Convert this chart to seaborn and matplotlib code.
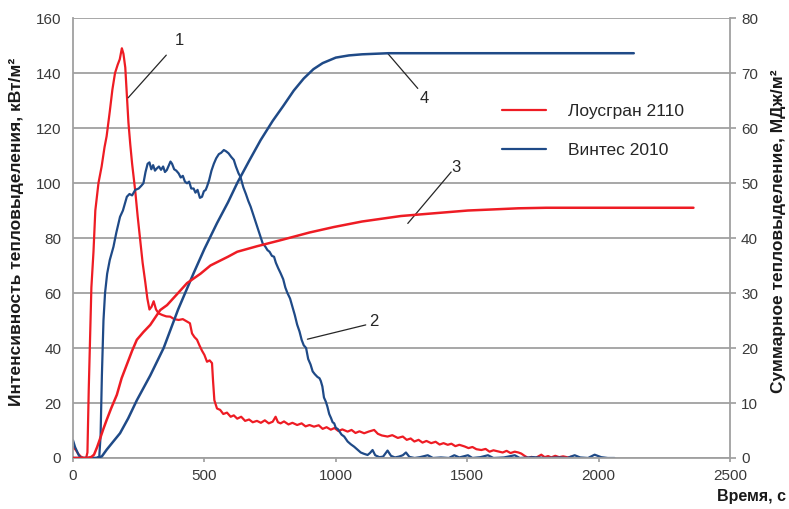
import matplotlib
matplotlib.use("Agg")
import matplotlib.pyplot as plt
import seaborn as sns

# heat release rate, kW/m2 (left axis)
t_red = [0, 10, 20, 30, 40, 50, 55, 60, 65, 70, 78, 85, 97, 109, 120, 128, 140, 150, 160, 170,
         178, 186, 192, 199, 205, 211, 218, 225, 237, 246, 256, 265, 275, 283, 291, 299, 307, 316, 326, 340,
         355, 370, 385, 402, 418, 434, 445, 453, 462, 472, 481, 491, 500, 510, 520, 529, 533, 538, 548, 560,
         572, 586, 600, 612, 625, 640, 655, 670, 684, 700, 715, 730, 745, 760, 771, 780, 790, 803, 820, 835,
         853, 870, 885, 900, 917, 935, 950, 965, 981, 995, 1010, 1025, 1045, 1060, 1075, 1090, 1108, 1125, 1146, 1160,
         1175, 1197, 1215, 1236, 1255, 1270, 1285, 1299, 1315, 1330, 1345, 1363, 1380, 1395, 1410, 1426, 1440, 1455, 1470, 1490,
         1505, 1520, 1535, 1554, 1570, 1585, 1600, 1617, 1635, 1650, 1665, 1681, 1695, 1706, 1718, 1732, 1745, 1760, 1782, 1795,
         1808, 1820, 1835, 1850, 1865, 1884, 1897]
hrr_red = [4, 3, 1.5, 0.5, 0, 0, 2, 25, 43, 62, 75, 90, 100, 106, 113, 117, 126, 134, 140, 143,
           145, 149, 147, 142, 132, 122, 114, 107, 97, 88, 79, 71, 64, 58, 54, 55, 57, 54, 52.6, 52,
           51.5, 51.4, 50.5, 50.2, 50.5, 49.6, 49, 45.3, 44, 43, 41, 39, 37.5, 35, 35.5, 34.5, 28, 21, 18, 17.5,
           16, 16.5, 15, 15.5, 14.3, 15, 13.5, 14, 13, 13.5, 12.8, 13.7, 12.6, 13.2, 15, 13, 12.6, 13.3, 12.2, 12.8,
           12, 12.6, 11.5, 12, 11.4, 11.9, 10.6, 11.2, 10.3, 10.9, 9.8, 10.4, 9.6, 10.2, 9.1, 9.7, 9, 9.6, 10.2, 8.8,
           8.2, 7.8, 8.3, 7.3, 7.8, 6.6, 7.1, 6, 6.6, 5.6, 6.2, 5.4, 5.9, 4.9, 5.4, 4.8, 5.2, 4.3, 4.8, 4.2,
           3.6, 4, 3.2, 2.9, 3.3, 2.3, 2.8, 2.4, 2, 2.6, 1.8, 2.3, 2, 1.6, 0.8, 0, 0.4, 0, 1.2, 0.3,
           0.7, 0.2, 0.8, 0.3, 0.6, 0.2, 0.5]

t_blue = [0, 8, 15, 22, 30, 60, 90, 100, 105, 110, 116, 122, 130, 140, 154, 165, 179, 190, 205, 215,
          225, 237, 250, 260, 268, 276, 284, 291, 298, 305, 312, 319, 327, 335, 343, 350, 357, 365, 371, 377,
          385, 393, 402, 410, 418, 426, 434, 442, 450, 459, 466, 474, 483, 491, 498, 505, 510, 518, 527, 536,
          545, 555, 564, 574, 583, 592, 602, 612, 620, 630, 637, 648, 658, 667, 676, 686, 695, 705, 714, 722,
          731, 740, 748, 757, 765, 772, 781, 790, 800, 808, 816, 826, 835, 844, 853, 862, 870, 878, 887, 895,
          904, 912, 920, 930, 938, 943, 949, 955, 962, 968, 975, 982, 988, 994, 1000, 1008, 1015, 1022, 1032, 1045,
          1057, 1070, 1083, 1095, 1108, 1121, 1130, 1140, 1150, 1166, 1180, 1197, 1210, 1225, 1240, 1255, 1267, 1280, 1300, 1320,
          1350, 1370, 1400, 1430, 1451, 1470, 1503, 1520, 1550, 1579, 1600, 1640, 1681, 1700, 1750, 1800, 1850, 1880, 1909, 1930,
          1960, 1985, 2010, 2035, 2061]
hrr_blue = [6.5, 4, 2.5, 1, 0, 0, 0, 0.5, 8, 30, 50, 60, 67, 72, 76.8, 82, 87.7, 90, 95, 96,
            95.5, 97.5, 98, 99, 99.9, 104, 107, 107.5, 105, 106.5, 104.5, 105.3, 106, 104.8, 106, 104, 104.7, 106.5, 107.8, 107,
            105, 104.5, 103.5, 102, 102.6, 100.5, 99.9, 100.5, 98, 98, 96.5, 97.5, 94.6, 95, 97, 97.5, 98.7, 101, 104.5, 107,
            109, 110.5, 111, 112, 111.5, 110.8, 109.5, 108.4, 106, 103.5, 102.3, 98.5, 96, 93.5, 91.4, 88.5, 86, 83, 80.5, 78,
            77, 75.6, 75, 73.5, 73.2, 71, 69, 67.2, 65, 62, 60, 58, 55, 52, 48.5, 46, 43, 41, 40, 36,
            34, 31.5, 30.5, 29.5, 29, 28, 26, 22, 20.5, 18.7, 16, 14.5, 13, 12.6, 11, 10.5, 9.5, 8.5, 7.8, 6,
            5, 4.1, 3, 2, 1.5, 1.1, 1.8, 2.9, 1, 0.3, 0.5, 2.7, 0.8, 0.2, 0.5, 1, 2, 0.4, 0, 0.3,
            1, 0, 0.2, 0, 1, 0.2, 1, 0, 0.3, 1, 0, 0.2, 1, 0, 0.3, 0, 0.2, 0, 1, 0.2,
            0, 1.2, 0.3, 0, 0]

# total heat release, MJ/m2 (right axis)
t_red_sum = [0, 55, 70, 80, 92, 103, 115, 128, 145, 167, 185, 205, 225, 243, 268, 294, 332, 358, 400, 434,
             485, 523, 548, 590, 625, 700, 790, 900, 993, 1100, 1248, 1375, 1503, 1600, 1694, 1800, 2000, 2200, 2361]
thr_red = [0, 0, 0.2, 0.6, 2, 3.5, 5.2, 6.9, 9, 11.5, 14.5, 17, 19.5, 21.5, 22.9, 24.2, 26.9, 27.8, 30, 31.8,
           33.5, 35, 35.6, 36.6, 37.5, 38.5, 39.6, 41, 42, 43, 44, 44.5, 45, 45.2, 45.4, 45.5, 45.5, 45.5, 45.5]

t_blue_sum = [0, 90, 110, 128, 150, 179, 210, 243, 294, 345, 400, 459, 500, 548, 590, 625, 670, 714, 760, 800,
              840, 878, 915, 950, 1000, 1050, 1100, 1200, 1400, 1700, 2000, 2134]
thr_blue = [0, 0, 0.3, 1.5, 2.8, 4.5, 7.2, 10.5, 15, 20, 27, 33.6, 38, 42.7, 46.5, 50, 54, 57.8, 61.3, 64,
            66.8, 69, 70.7, 71.8, 72.8, 73.2, 73.4, 73.6, 73.6, 73.6, 73.6, 73.6]

names = ["Лоусгран 2110", "Винтес 2010"]
x_ticks = [0, 500, 1000, 1500, 2000, 2500]
left_ticks = [0, 20, 40, 60, 80, 100, 120, 140, 160]
right_ticks = [0, 10, 20, 30, 40, 50, 60, 70, 80]

# curve numbers: label, text position, leader line (from, to) in left-axis units
marks = ["1", "2", "3", "4"]
mark_pos = [(405, 152), (1144, 49.8), (1458, 105.8), (1336, 130.9)]
mark_from = [(355, 146.5), (1114, 48.4), (1439, 104), (1312, 134.4)]
mark_to = [(210, 131), (892, 43.2), (1274, 85.3), (1197, 147.2)]

sns.set_theme(style="white")
plt.rcParams["font.family"] = ["Liberation Sans", "DejaVu Sans"]

red = "#ee1c24"
blue = "#1f4a87"
grid_c = "#a0a0a0"
text_c = "#3a3a3a"
dark = "#1a1a1a"

fig = plt.figure(figsize=(7.89, 5.09), dpi=100)
ax = fig.add_axes([0.0925, 0.1002, 0.8327, 0.8644])
ax2 = ax.twinx()

sns.lineplot(x=t_red, y=hrr_red, ax=ax, color=red, lw=1.6, label=names[0])
sns.lineplot(x=t_blue, y=hrr_blue, ax=ax, color=blue, lw=1.6, label=names[1])
sns.lineplot(x=t_blue_sum, y=thr_blue, ax=ax2, color=blue, lw=1.8, legend=False)
sns.lineplot(x=t_red_sum, y=thr_red, ax=ax2, color=red, lw=1.8, legend=False)

ax.set_xlim(0, 2500)
ax.set_ylim(0, 160)
ax2.set_ylim(0, 80)
ax.set_xticks(x_ticks)
ax.set_yticks(left_ticks)
ax2.set_yticks(right_ticks)

ax.grid(axis="y", color=grid_c, lw=1.3)
ax.grid(axis="x", visible=False)
ax2.grid(False)

for a in (ax, ax2):
    for side in ("top", "left", "right", "bottom"):
        a.spines[side].set_visible(False)
ax.spines["left"].set_visible(True)
ax.spines["bottom"].set_visible(True)
ax2.spines["right"].set_visible(True)
for sp in (ax.spines["left"], ax.spines["bottom"], ax2.spines["right"]):
    sp.set_color(grid_c)
    sp.set_linewidth(1.3)

ax.tick_params(axis="y", left=False, length=0, pad=8.5, labelsize=11, labelcolor=text_c)
ax.tick_params(axis="x", bottom=True, length=3, color=grid_c, pad=5, labelsize=11, labelcolor=text_c)
ax2.tick_params(axis="y", right=True, length=4, color=grid_c, pad=4, labelsize=11, labelcolor=text_c)

ax.set_ylabel("Интенсивность тепловыделения, кВт/м²", fontsize=12.5, fontweight="bold", color=dark)
ax.yaxis.set_label_coords(-0.0746, 0.515)
ax2.set_ylabel("Суммарное тепловыделение, МДж/м²", fontsize=12.5, fontweight="bold", color=dark)
ax2.yaxis.set_label_coords(1.0624, 0.515)
ax.set_xlabel("Время, с", fontsize=11.5, fontweight="bold", color=dark, ha="right")
ax.xaxis.set_label_coords(1.085, -0.07)

ax.legend(loc="upper left", bbox_to_anchor=(0.640, 0.825), frameon=False, fontsize=12.5,
          borderpad=0, handlelength=2.5, handletextpad=1.3, labelspacing=1.4)

for m, p, a, b in zip(marks, mark_pos, mark_from, mark_to):
    ax.annotate("", xy=b, xytext=a,
                arrowprops=dict(arrowstyle="-", color="#262626", lw=0.9, shrinkA=0, shrinkB=0))
    ax.text(p[0], p[1], m, fontsize=12, color="#262626", ha="center", va="center")

fig.savefig("out.png", dpi=100)
